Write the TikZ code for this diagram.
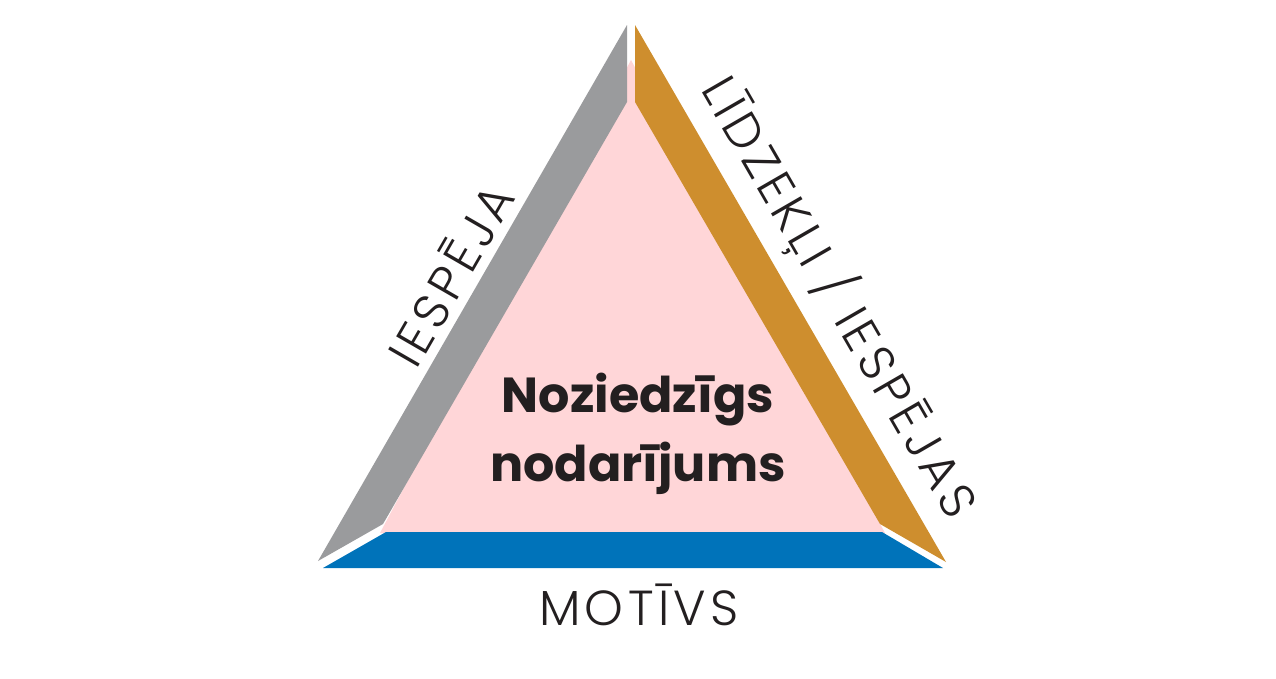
\documentclass[tikz,border=0pt]{standalone}
\usepackage{fontspec}
\setmainfont{Poppins}[UprightFont=* Light, BoldFont=* Bold]
\newfontfamily\sidefont{Poppins}[UprightFont=* Light, LetterSpace=9]
\definecolor{bandgray}{RGB}{154,155,157}
\definecolor{bandorange}{RGB}{206,142,46}
\definecolor{bandblue}{RGB}{0,115,186}
\definecolor{innerpink}{RGB}{255,214,216}
\definecolor{textdark}{RGB}{35,31,32}
\tikzset{
	sidelabel/.style={font=\sidefont\fontsize{14}{16}\selectfont, text=textdark, inner sep=0pt},
	centerlabel/.style={font=\bfseries\fontsize{14}{19.6}\selectfont, text=textdark, align=center, inner sep=0pt}
}
\begin{document}
\begin{tikzpicture}[x=0.01cm,y=-0.01cm]
		\useasboundingbox (0,0) rectangle (1276,678);
		\fill[white] (0,0) rectangle (1276,678);
		% Innenfläche
		\fill[innerpink] (631,60) -- (380,533) -- (885,533) -- cycle;
		% Seite links
		\fill[bandgray] (627,25) -- (627,102) -- (383,524) -- (318,561) -- cycle;
		% Seite rechts
		\fill[bandorange] (635,25) -- (635,102) -- (880,524) -- (946,562) -- cycle;
		% Seite unten
		\fill[bandblue] (323,568) -- (386,532) -- (882,532) -- (943,568) -- cycle;
		% Texte
		\node[centerlabel] (crime) at (638,434) {Noziedzīgs\\nodarījums};
		\node[sidelabel, rotate=60] (opportunity) at (449,274) {IESPĒJA};
		\node[sidelabel, rotate=-60] (means) at (840,297) {LĪDZEKĻI / IESPĒJAS};
		\node[sidelabel, anchor=base] (motive) at (639,625) {MOTĪVS};
\end{tikzpicture}
\end{document}
